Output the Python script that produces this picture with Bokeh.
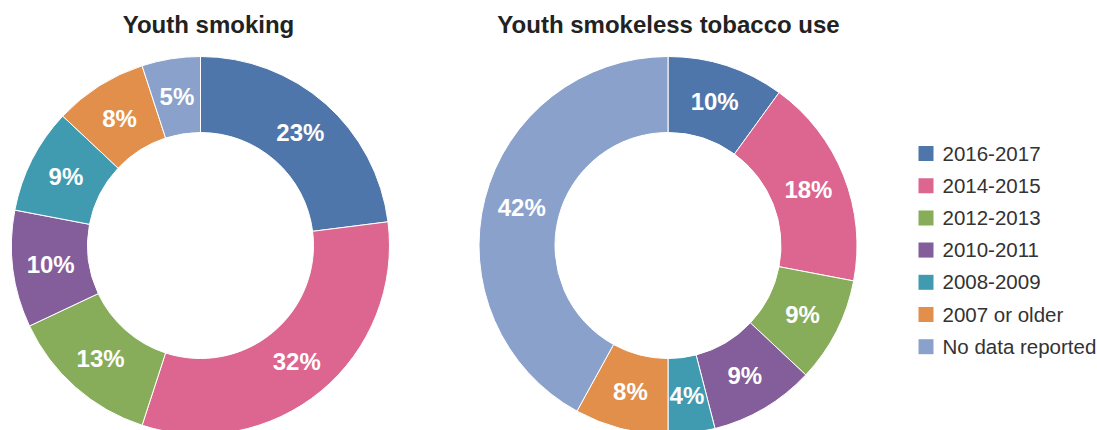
import math
from bokeh.plotting import figure
from bokeh.models import Range1d, ColumnDataSource
from bokeh.core.properties import value
from bokeh.embed import file_html
from bokeh.resources import INLINE

categories = ["2016-2017", "2014-2015", "2012-2013", "2010-2011",
              "2008-2009", "2007 or older", "No data reported"]
colors = ["#4e76aa", "#dc668f", "#87ad5a", "#835e9b", "#419bb0", "#e18f4b", "#8aa2cb"]
smoking = [23, 32, 13, 10, 9, 8, 5]
smokeless = [10, 18, 9, 9, 4, 8, 42]
titles = ["Youth smoking", "Youth smokeless tobacco use"]

W, H = 1097, 430
p = figure(width=W, height=H, output_backend="svg", toolbar_location=None,
           x_range=Range1d(0, W), y_range=Range1d(0, H),
           min_border=0)
p.axis.visible = False
p.grid.visible = False
p.outline_line_color = None
p.background_fill_color = "white"
p.border_fill_color = "white"

R_OUT, R_IN = 189, 113
R_LAB = (R_OUT + R_IN) / 2
centers = [(200, H - 245), (667.5, H - 245)]
title_x = [208, 668]
title_y = H - 24

def donut(vals, cx, cy):
    total = float(sum(vals))
    starts, ends, lx, ly, labs = [], [], [], [], []
    cum = 0.0
    for v in vals:
        a0 = math.pi / 2 - 2 * math.pi * cum / total
        a1 = math.pi / 2 - 2 * math.pi * (cum + v) / total
        mid = (a0 + a1) / 2
        starts.append(a0)
        ends.append(a1)
        lx.append(cx + R_LAB * math.cos(mid))
        ly.append(cy + R_LAB * math.sin(mid))
        labs.append(f"{v}%")
        cum += v
    src = ColumnDataSource(dict(x=[cx] * len(vals), y=[cy] * len(vals),
                                start=starts, end=ends, color=colors,
                                lx=lx, ly=ly, lab=labs))
    p.annular_wedge(x="x", y="y", inner_radius=R_IN, outer_radius=R_OUT,
                    start_angle="start", end_angle="end", direction="clock",
                    fill_color="color", line_color="white", line_width=1, source=src)
    p.text(x="lx", y="ly", text="lab", source=src, text_color="white",
           text_font=value("Liberation Sans"), text_font_style="bold",
           text_font_size="24px", text_align="center", text_baseline="middle")

for vals, (cx, cy) in zip([smoking, smokeless], centers):
    donut(vals, cx, cy)

p.text(x=title_x, y=[title_y] * 2, text=titles, text_color="#222222",
       text_font=value("Liberation Sans"), text_font_style="bold",
       text_font_size="24px", text_align="center", text_baseline="middle")

# legend
leg_x0 = 925.5
leg_y0 = H - 153
pitch = 32.2
ly_ = [leg_y0 - i * pitch for i in range(len(categories))]
p.scatter(x=[leg_x0] * len(categories), y=ly_, marker="square", size=15,
          fill_color=colors, line_color=None)
p.text(x=[942] * len(categories), y=ly_, text=categories, text_color="#333333",
       text_font=value("Liberation Sans"), text_font_size="20.5px",
       text_align="left", text_baseline="middle")

open("out.html", "w").write(file_html(p, INLINE))
